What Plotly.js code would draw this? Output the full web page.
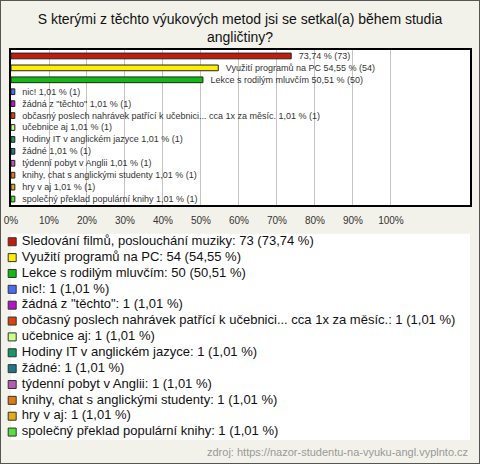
<!DOCTYPE html>
<html><head><meta charset="utf-8">
<script src="https://cdn.plot.ly/plotly-3.0.1.min.js"></script>
<style>
body{margin:0;background:#f3f2ea}
#wrap{position:relative;width:480px;height:464px}
#chart{width:480px;height:464px}
#frame{position:absolute;left:0;top:0;width:480px;height:464px;box-sizing:border-box;border:1px solid #555;pointer-events:none}
</style>
</head><body><div id="wrap"><div id="chart"></div><div id="frame"></div></div>
<script>
const categories = [
  'Sledování filmů, poslouchání muziky',
  'Využití programů na PC',
  'Lekce s rodilým mluvčím',
  'nic!',
  'žádná z "těchto"',
  'občasný poslech nahrávek patřící k učebnici... cca 1x za měsíc.',
  'učebnice aj',
  'Hodiny IT v anglickém jazyce',
  'žádné',
  'týdenní pobyt v Anglii',
  'knihy, chat s anglickými studenty',
  'hry v aj',
  'společný překlad populární knihy'
];
const counts = [73, 54, 50, 1, 1, 1, 1, 1, 1, 1, 1, 1, 1];
const percents = [73.74, 54.55, 50.51, 1.01, 1.01, 1.01, 1.01, 1.01, 1.01, 1.01, 1.01, 1.01, 1.01];
const colors = ['#c01e0a', '#ffee00', '#11bb11', '#4a6cf0', '#b514c8', '#dd4011', '#ccff88', '#16966a', '#1f7589', '#b65ab8', '#e07a10', '#e0ad12', '#55e03a'];
const tickValues = [0, 10, 20, 30, 40, 50, 60, 70, 80, 90, 100];
const tickLabels = ['0%', '10%', '20%', '30%', '40%', '50%', '60%', '70%', '80%', '90%', '100%'];
const titleText = 'S kterými z těchto výukových metod jsi se setkal(a) během studia<br>angličtiny?';
const sourceText = 'zdroj: https://nazor-studentu-na-vyuku-angl.vyplnto.cz';

const NB = '\u00a0';
const fmt = p => p.toFixed(2).replace('.', ',');
const barLabels = categories.map((c, i) => NB + NB + NB + (i === 0 ? '' : c + ' ') + fmt(percents[i]) + ' % (' + counts[i] + ')');
const legendLabels = categories.map((c, i) => NB + c + ': ' + counts[i] + ' (' + fmt(percents[i]) + ' %)');
const legendIdx = categories.map((c, i) => i);

const FONT = 'Liberation Sans, Arial, sans-serif';

const bars = {
  type: 'bar', orientation: 'h',
  x: percents, y: categories,
  marker: {color: colors, line: {color: '#222', width: 1}},
  width: 0.48,
  text: barLabels, textposition: 'outside', constraintext: 'none', cliponaxis: false,
  textfont: {family: FONT, size: 9, color: '#333'},
  hoverinfo: 'skip', xaxis: 'x', yaxis: 'y'
};

const legend = {
  type: 'scatter', mode: 'markers+text',
  x: legendIdx.map(() => 0.0026), y: legendIdx,
  marker: {symbol: 'square', size: 8, color: colors, line: {color: '#333', width: 1}},
  text: legendLabels, textposition: 'middle right',
  textfont: {family: FONT, size: 13, color: '#111'},
  cliponaxis: false, hoverinfo: 'skip', xaxis: 'x2', yaxis: 'y2'
};

const layout = {
  width: 480, height: 464,
  margin: {l: 11, r: 10, t: 50, b: 24},
  paper_bgcolor: '#f3f2ea', plot_bgcolor: '#ffffff',
  showlegend: false,
  font: {family: FONT},
  title: {text: titleText, font: {family: FONT, size: 14, color: '#111'}, x: 0.5, xanchor: 'center', xref: 'container', yref: 'container', y: 1 - 24 / 464, yanchor: 'middle'},
  xaxis: {domain: [0, 1], range: [0, 120.8], tickvals: tickValues, ticktext: tickLabels, showgrid: true, gridcolor: '#c4c4c4', gridwidth: 1, zeroline: false, showline: true, mirror: true, linecolor: '#000', linewidth: 2, ticks: '', ticklabelstandoff: 5, tickfont: {family: FONT, size: 10, color: '#333'}, anchor: 'y', fixedrange: true},
  yaxis: {domain: [0.6026, 1], type: 'category', autorange: 'reversed', showticklabels: false, showgrid: false, zeroline: false, showline: true, mirror: true, linecolor: '#000', linewidth: 2, ticks: '', anchor: 'x', fixedrange: true},
  xaxis2: {domain: [0, 1], range: [0, 1], visible: false, anchor: 'y2', fixedrange: true},
  yaxis2: {domain: [0, 0.5287], range: [12.5, -0.5], visible: false, anchor: 'x2', fixedrange: true},
  annotations: [{text: sourceText, xref: 'paper', yref: 'paper', x: 1, xanchor: 'right', y: -12 / 390, yanchor: 'middle', showarrow: false, font: {family: FONT, size: 11, color: '#999'}}],
  bargap: 0.5
};

Plotly.newPlot('chart', [bars, legend], layout, {displayModeBar: false, staticPlot: true});
</script>
</body></html>
